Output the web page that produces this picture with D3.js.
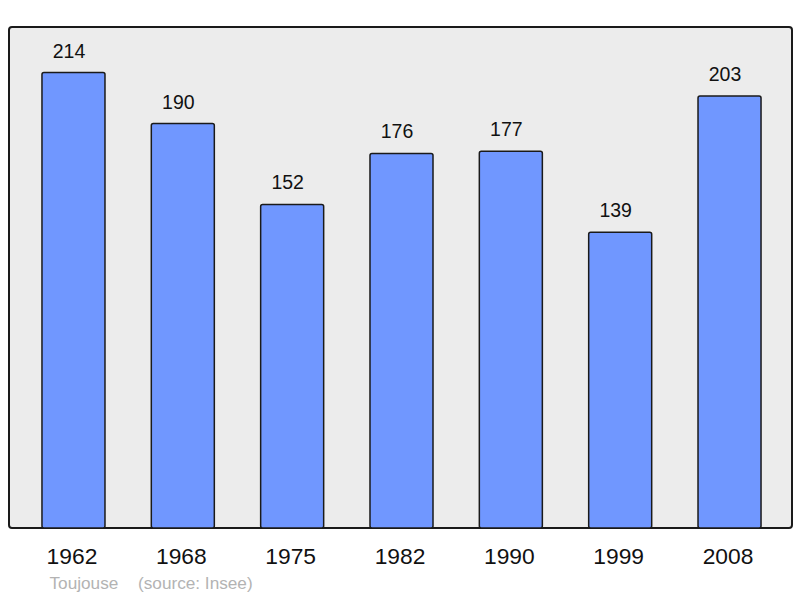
<!DOCTYPE html>
<html><head><meta charset="utf-8">
<script src="https://cdn.jsdelivr.net/npm/d3@7"></script>
<style>body{margin:0;background:#fff}</style>
</head><body>
<svg id="c" width="800" height="598"></svg>
<script>
const years = ["1962","1968","1975","1982","1990","1999","2008"];
const population = [214,190,152,176,177,139,203];
const commune = "Toujouse";
const source = "(source: Insee)";

const svg = d3.select("#c");
const font = "'Liberation Sans', Arial, sans-serif";
const panel = {x:9, y:27, w:783, h:501};

svg.append("rect").attr("x",panel.x).attr("y",panel.y).attr("width",panel.w).attr("height",panel.h)
  .attr("rx",3).attr("fill","#ececec").attr("stroke","#1a1a1a").attr("stroke-width",2);

const x = d3.scaleBand().domain(years).range([18.8,784.2]).paddingInner(0.4237).paddingOuter(0.2119);
const y = d3.scaleLinear().domain([0, d3.max(population)*1.1]).range([panel.y+panel.h, panel.y]);

const data = years.map((yr,i)=>({yr, v:population[i]}));

svg.selectAll("rect.bar").data(data).join("rect").attr("class","bar")
  .attr("x",d=>x(d.yr)).attr("y",d=>y(d.v)).attr("width",x.bandwidth()).attr("height",d=>y(0)-y(d.v))
  .attr("rx",2).attr("fill","#7097ff").attr("stroke","#1a1a1a").attr("stroke-width",1.5);

svg.selectAll("text.val").data(data).join("text").attr("class","val")
  .attr("x",d=>x(d.yr)+x.bandwidth()/2-4.5).attr("y",d=>y(d.v)-15)
  .attr("text-anchor","middle").attr("font-family",font).attr("font-size",19.5).attr("fill","#111")
  .text(d=>d.v);

svg.selectAll("text.yr").data(data).join("text").attr("class","yr")
  .attr("x",d=>x(d.yr)+x.bandwidth()/2-1.5).attr("y",563.5)
  .attr("text-anchor","middle").attr("font-family",font).attr("font-size",22.8).attr("fill","#111")
  .text(d=>d.yr);

svg.append("text").attr("x",49.5).attr("y",589).attr("font-family",font).attr("font-size",17.2)
  .attr("fill","#b3b3b3").text(commune);
svg.append("text").attr("x",138).attr("y",589).attr("font-family",font).attr("font-size",17.2)
  .attr("fill","#b3b3b3").text(source);
</script>
</body></html>
